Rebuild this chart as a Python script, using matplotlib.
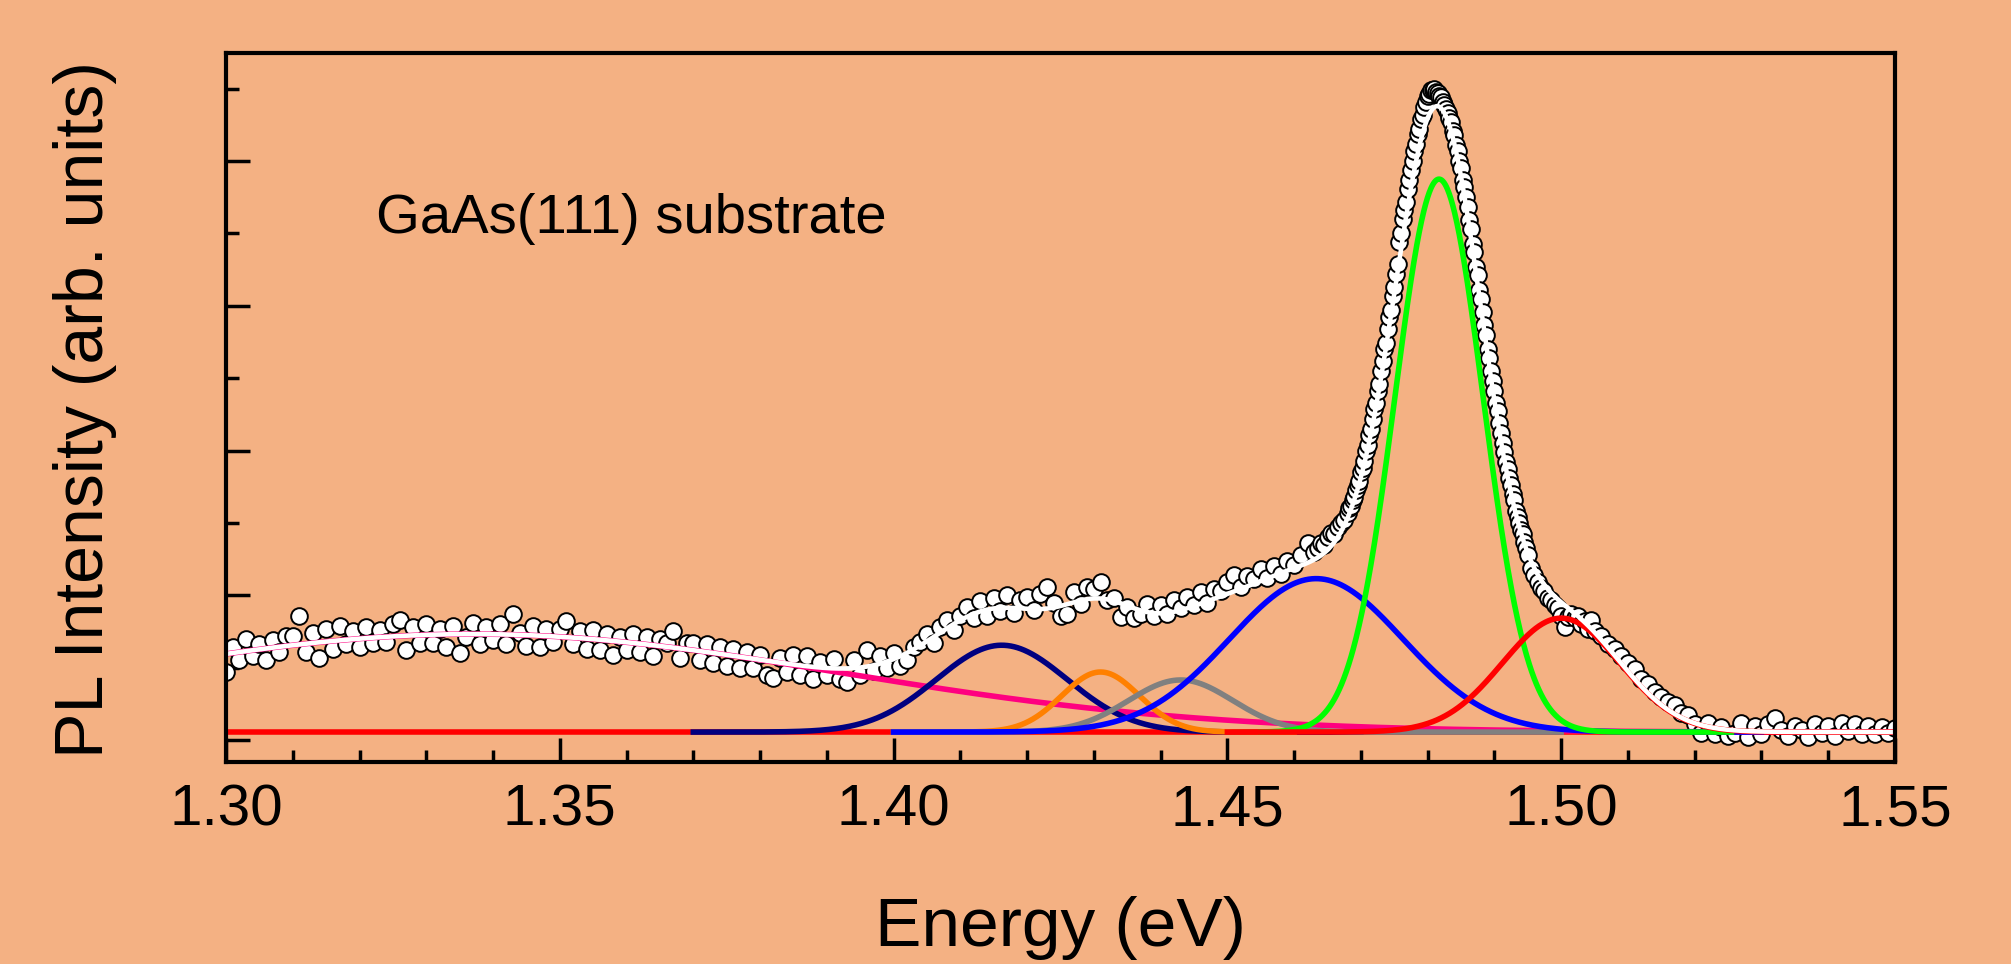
import numpy as np
import matplotlib
matplotlib.use("Agg")
import matplotlib.pyplot as plt
from matplotlib.ticker import MultipleLocator, FormatStrFormatter

plt.rcParams['font.family'] = ['Liberation Sans', 'DejaVu Sans']

BG = '#F4B183'

# measured PL spectrum, energy grid of the three scan windows (eV)
energy_low = np.round(np.arange(1.300, 1.4630001, 0.001), 5)
energy_peak = np.round(np.concatenate([np.arange(1.4635, 1.46800001, 0.0005),
                                       np.arange(1.46825, 1.49500001, 0.00025),
                                       np.arange(1.4955, 1.50500001, 0.0005)]), 5)
energy_high = np.round(np.arange(1.506, 1.5500001, 0.001), 5)

pl_low = [
    0.47, 0.64, 0.55, 0.70, 0.58, 0.66, 0.55, 0.69, 0.61, 0.72,
    0.72, 0.86, 0.61, 0.74, 0.57, 0.77, 0.63, 0.79, 0.66, 0.75,
    0.64, 0.78, 0.67, 0.76, 0.68, 0.80, 0.83, 0.62, 0.78, 0.67,
    0.80, 0.67, 0.77, 0.64, 0.79, 0.60, 0.71, 0.81, 0.66, 0.78,
    0.69, 0.80, 0.66, 0.87, 0.74, 0.65, 0.79, 0.64, 0.77, 0.68,
    0.77, 0.82, 0.66, 0.75, 0.63, 0.76, 0.62, 0.73, 0.59, 0.71,
    0.62, 0.73, 0.61, 0.71, 0.58, 0.70, 0.67, 0.75, 0.57, 0.67,
    0.67, 0.55, 0.66, 0.53, 0.64, 0.51, 0.63, 0.50, 0.61, 0.50,
    0.59, 0.45, 0.43, 0.57, 0.47, 0.59, 0.45, 0.58, 0.42, 0.54,
    0.45, 0.56, 0.42, 0.40, 0.55, 0.45, 0.62, 0.48, 0.58, 0.50,
    0.60, 0.51, 0.55, 0.64, 0.68, 0.73, 0.67, 0.78, 0.83, 0.76,
    0.86, 0.92, 0.84, 0.96, 0.86, 0.98, 0.89, 1.00, 0.88, 0.97,
    0.99, 0.90, 1.01, 1.06, 0.95, 0.86, 0.87, 1.02, 0.94, 1.06,
    1.04, 1.09, 0.97, 0.98, 0.85, 0.92, 0.84, 0.87, 0.94, 0.86,
    0.93, 0.87, 0.97, 0.91, 0.99, 0.93, 1.02, 0.95, 1.04, 1.03,
    1.09, 1.14, 1.06, 1.13, 1.11, 1.18, 1.12, 1.20, 1.15, 1.24,
    1.21, 1.28, 1.36, 1.30,
]
pl_peak = [
    1.33, 1.36, 1.35, 1.40, 1.43, 1.42, 1.47, 1.50, 1.52, 1.57,
    1.60, 1.62, 1.66, 1.68, 1.73, 1.76, 1.79, 1.85, 1.88, 1.93,
    2.00, 2.04, 2.11, 2.15, 2.22, 2.29, 2.33, 2.41, 2.46, 2.55,
    2.62, 2.70, 2.74, 2.84, 2.92, 2.97, 3.07, 3.13, 3.22, 3.29,
    3.44, 3.50, 3.60, 3.66, 3.72, 3.81, 3.87, 3.94, 4.00, 4.07,
    4.12, 4.19, 4.22, 4.29, 4.32, 4.37, 4.41, 4.45, 4.46, 4.49,
    4.49, 4.50, 4.48, 4.47, 4.45, 4.44, 4.41, 4.39, 4.36, 4.33,
    4.30, 4.27, 4.21, 4.18, 4.11, 4.07, 4.00, 3.95, 3.87, 3.82,
    3.75, 3.68, 3.59, 3.53, 3.43, 3.37, 3.27, 3.21, 3.11, 3.05,
    2.96, 2.87, 2.80, 2.70, 2.64, 2.55, 2.48, 2.41, 2.33, 2.27,
    2.19, 2.12, 2.05, 1.99, 1.92, 1.87, 1.81, 1.76, 1.70, 1.66,
    1.58, 1.54, 1.50, 1.45, 1.42, 1.37, 1.33, 1.28, 1.19, 1.14,
    1.09, 1.05, 1.03, 0.98, 0.97, 0.93, 0.91, 0.86, 0.78, 0.85,
    0.87, 0.84, 0.86, 0.80, 0.82, 0.77, 0.83, 0.75,
]
pl_high = [
    0.72, 0.66, 0.63, 0.58, 0.53, 0.49, 0.42, 0.39, 0.33, 0.30,
    0.26, 0.24, 0.19, 0.17, 0.11, 0.05, 0.12, 0.04, 0.09, 0.03,
    0.05, 0.12, 0.02, 0.10, 0.04, 0.11, 0.15, 0.07, 0.03, 0.10,
    0.07, 0.02, 0.11, 0.05, 0.10, 0.03, 0.12, 0.06, 0.11, 0.04,
    0.10, 0.04, 0.09, 0.05, 0.08,
]

# gaussian peaks from the fit: centre (eV), sigma (eV), height above baseline
peak_centers = [1.337, 1.4162, 1.4310, 1.4430, 1.4633, 1.4817, 1.5000]
peak_sigmas = [0.055, 0.0098, 0.0058, 0.0078, 0.0130, 0.0066, 0.0088]
peak_heights = [0.677, 0.600, 0.415, 0.360, 1.06, 3.82, 0.787]
# energy window each peak curve is drawn over
peak_lo = [1.30, 1.37, 1.40, 1.40, 1.40, 1.455, 1.45]
peak_hi = [1.55, 1.47, 1.46, 1.50, 1.53, 1.5255, 1.55]
peak_colors = ['#FF0080', '#000080', '#FF8000', '#808080', '#0000FF', '#00FF00', '#FF0000']
baseline = 0.055


def gauss(e, c, s, h):
    return h * np.exp(-(e - c) ** 2 / (2 * s ** 2))


energy = np.concatenate([energy_low, energy_peak, energy_high])
pl = np.concatenate([pl_low, pl_peak, pl_high])

fig = plt.figure(figsize=(20.11, 9.64), dpi=100, facecolor=BG)
ax = fig.add_axes([0.1124, 0.2095, 0.8299, 0.7358])
ax.set_facecolor(BG)

ax.plot(energy, pl, 'o', ls='none', ms=12, mfc='white', mec='black', mew=1.4, zorder=2)

ax.plot([1.30, 1.55], [baseline, baseline], color='#FF0000', lw=4, zorder=3)
for c, s, h, lo, hi, col in zip(peak_centers, peak_sigmas, peak_heights, peak_lo, peak_hi, peak_colors):
    e = np.linspace(lo, hi, 800)
    ax.plot(e, baseline + gauss(e, c, s, h), color=col, lw=4, zorder=3)

# cumulative fit
e_fit = np.linspace(1.30, 1.55, 3000)
fit = baseline + sum(gauss(e_fit, c, s, h) for c, s, h in zip(peak_centers, peak_sigmas, peak_heights))
ax.plot(e_fit, fit, color='white', lw=3.3, zorder=4)

ax.text(1.3225, 3.5, "GaAs(111) substrate", fontsize=40.5, va='baseline', ha='left')

ax.set_xlim(1.30, 1.55)
ax.set_ylim(-0.152, 4.748)
ax.xaxis.set_major_locator(MultipleLocator(0.05))
ax.xaxis.set_minor_locator(MultipleLocator(0.01))
ax.xaxis.set_major_formatter(FormatStrFormatter('%.2f'))
ax.yaxis.set_major_locator(MultipleLocator(1))
ax.yaxis.set_minor_locator(MultipleLocator(0.5))
ax.tick_params(which='both', direction='in', top=False, right=False, width=2.5, labelsize=42, pad=15.5)
ax.tick_params(which='major', length=17)
ax.tick_params(which='minor', length=9)
ax.tick_params(axis='y', labelleft=False)
for sp in ax.spines.values():
    sp.set_linewidth(3)
    sp.set_zorder(5)

ax.set_xlabel("Energy (eV)", fontsize=50, labelpad=42)
fig.text(85 / 2011, 0.5755, "PL Intensity (arb. units)", fontsize=49, rotation=90, ha='center', va='center')

fig.savefig("out.png", dpi=100, facecolor=BG)
